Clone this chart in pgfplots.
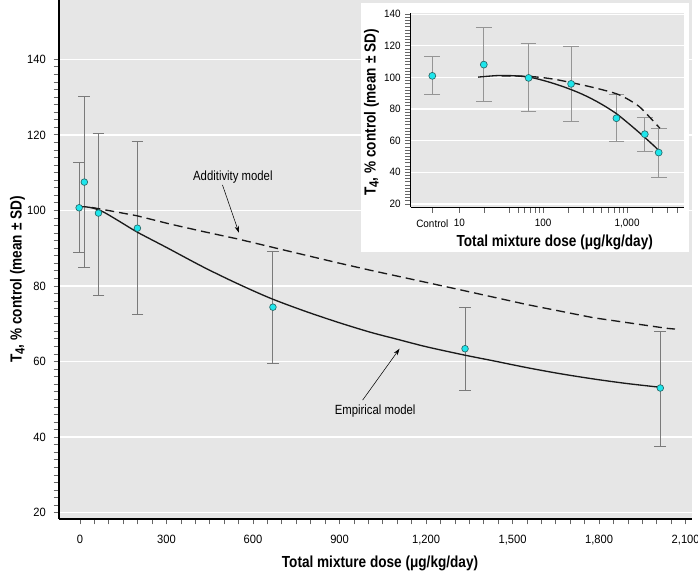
\documentclass[border=0pt]{standalone}
\usepackage{pgfplots}
\pgfplotsset{compat=1.18}
\usepackage{fontspec}
\setmainfont{Liberation Sans}[FakeStretch=0.85]
\newfontfamily\tickfont{Liberation Sans}[FakeStretch=0.93]
\usetikzlibrary{arrows.meta}
\definecolor{bg}{HTML}{E6E6E6}
\definecolor{ptfill}{HTML}{1EE6EC}
\definecolor{ptedge}{HTML}{2A6A6A}
\definecolor{eb}{HTML}{7A7A7A}
\definecolor{curve}{HTML}{1A1A1A}
\newcommand{\lab}{\fontsize{12}{14}\selectfont\bfseries}
\newcommand{\ylab}{T\raisebox{-0.35ex}{\fontsize{10}{12}\selectfont 4}, \% control (mean ± SD)}
\newcommand{\xlab}{Total mixture dose (μg/kg/day)}

\pgfplotstableread{
x y ep em
-3 100.7 11.9 11.9
15 107.5 22.7 22.6
64 99.3 21.1 21.7
199 95.3 23.0 22.9
669 74.4 14.7 14.8
1335 63.4 10.9 11.0
2012 53.0 14.9 15.6
}\maindata

\pgfplotstableread{
x y
0 101.0
20 100.95
46 100.6
81 99.6
139 97.0
200 94.2
300 90.2
428 85.0
544 80.7
659 76.8
774 73.5
890 70.5
1005 67.8
1100 65.9
1202 63.9
1334 61.7
1433 60.2
1549 58.4
1664 56.8
1780 55.4
1895 54.2
2011 53.2
}\mainemp

\pgfplotstableread{
x y
40 100.8
69 100.4
197 98.6
312 96.4
428 94.4
544 92.5
659 90.4
774 88.3
890 86.2
1005 84.2
1318 79.0
1549 75.1
1780 71.6
2034 68.8
2063 68.6
}\mainadd

\pgfplotstableread{
x y ep em
4.77 101.0 12.4 11.6
19.6 108.1 23.2 23.4
67 99.7 22.0 21.1
215 95.9 23.4 23.6
746 74.2 15.2 14.5
1625 64.1 10.7 11.0
2378 52.5 15.4 15.6
}\insetdata

\pgfplotstableread{
x y
16.8 100.2
29.1 101.2
46 101.0
72.8 99.9
115 97.2
181 93.8
286 89.6
452 84.3
714 77.8
1029 71.1
1483 63.9
2136 56.3
2384 53.7
}\insetemp

\pgfplotstableread{
x y
32 101.0
70 100.6
137 98.8
344 94.4
714 90.0
1000 86.5
1400 81.5
1862 74.8
2455 67.9
}\insetadd

\begin{document}
\begin{tikzpicture}
\path[use as bounding box] (-44.25pt,-40.5pt) rectangle (479.25pt,389.25pt);
\begin{axis}[
  at={(0pt,0pt)}, anchor=south west,
  scale only axis, width=474.75pt, height=389.25pt,
  xmin=-72.8, xmax=2122, ymin=18.33, ymax=155.7,
  axis x line*=bottom, axis y line*=left,
  axis line style={black, line width=1.1pt, -},
  axis background/.style={fill=bg},
  xtick={0,300,...,2100}, minor x tick num=5,
  ytick={20,40,...,140}, minor y tick num=9,
  tick align=outside, major tick length=4pt, minor tick length=4pt,
  tick style={black!60, line width=0.6pt},
  ymajorgrids, major grid style={white, line width=1pt},
  /pgf/number format/assume math mode=true,
  xticklabel style={/pgf/number format/1000 sep={,}, inner sep=0pt, anchor=north, yshift=-8pt},
  yticklabel style={inner sep=0pt, anchor=east, xshift=-5.75pt},
  tick label style={font=\tickfont\fontsize{9}{10}\selectfont},
  clip=false,
]
\addplot[forget plot, only marks, mark=none,
  error bars/.cd, y dir=both, y explicit,
  error bar style={eb, line width=0.75pt},
  error mark options={rotate=90, eb, mark size=4.4pt, line width=0.75pt}]
  table[x=x, y=y, y error plus=ep, y error minus=em] {\maindata};
\addplot[curve, line width=1pt, smooth, mark=none] table[x=x,y=y] {\mainemp};
\addplot[curve, line width=1pt, mark=none, dash pattern=on 6.75pt off 3.75pt] table[x=x,y=y] {\mainadd};
\addplot[only marks, mark=*, mark size=2.5pt, mark options={fill=ptfill, draw=ptedge, line width=0.5pt}]
  table[x=x,y=y] {\maindata};
\node[anchor=base, font=\fontsize{10}{12}\selectfont, inner sep=0pt] at (axis cs:530,108.0) {Additivity model};
\draw[-{Stealth[length=5pt,width=3.2pt]}, line width=0.4pt] (axis cs:494,106.75) -- (axis cs:551,94.1);
\node[anchor=base, font=\fontsize{10}{12}\selectfont, inner sep=0pt] at (axis cs:1023.5,45.9) {Empirical model};
\draw[-{Stealth[length=5pt,width=3.2pt]}, line width=0.4pt] (axis cs:980,49.8) -- (axis cs:1108,63.4);
\end{axis}

\node[anchor=base, inner sep=0pt, font=\lab] at (240.75pt,-36pt) {\xlab};
\node[anchor=base, inner sep=0pt, rotate=90, font=\lab] at (-28pt,179.6pt) {\ylab};

\fill[white] (226.5pt,200.25pt) rectangle (472.5pt,387pt);

\begin{axis}[
  at={(263.8pt,233.8pt)}, anchor=south west,
  scale only axis, width=205.2pt, height=146pt,
  xmode=log, xmin=2.64, xmax=4808, ymin=17.9, ymax=141,
  axis x line*=bottom, axis y line*=left,
  axis line style={black, line width=1.1pt, -},
  axis background/.style={fill=bg},
  xtick={4.77,10,100,1000}, xticklabels={Control,10,100,{1,000}},
  minor xtick={20,40,50,60,70,80,90,200,300,400,500,600,700,800,900,2000,3000,4000},
  ytick={20,40,...,140}, minor y tick num=9,
  tick align=outside, major tick length=4pt, minor tick length=4pt,
  tick style={black!60, line width=0.6pt},
  ymajorgrids, major grid style={white, line width=1pt},
  /pgf/number format/assume math mode=true,
  xticklabel style={inner sep=0pt, anchor=north, yshift=-5pt},
  yticklabel style={inner sep=0pt, anchor=east, xshift=-3.3pt},
  tick label style={font=\tickfont\fontsize{8}{9}\selectfont},
  clip=false,
]
\addplot[forget plot, only marks, mark=none,
  error bars/.cd, y dir=both, y explicit,
  error bar style={eb!80, line width=0.75pt},
  error mark options={rotate=90, eb!80, mark size=5.9pt, line width=0.75pt}]
  table[x=x, y=y, y error plus=ep, y error minus=em] {\insetdata};
\addplot[curve, line width=1pt, smooth, mark=none] table[x=x,y=y] {\insetemp};
\addplot[curve, line width=1pt, smooth, mark=none, dash pattern=on 6.75pt off 3.75pt] table[x=x,y=y] {\insetadd};
\addplot[only marks, mark=*, mark size=2.6pt, mark options={fill=ptfill, draw=ptedge, line width=0.5pt}]
  table[x=x,y=y] {\insetdata};
\end{axis}

\node[anchor=base, inner sep=0pt, font=\lab] at (371.8pt,204.2pt) {\xlab};
\node[anchor=base, inner sep=0pt, rotate=90, font=\lab] at (237.5pt,304.9pt) {\ylab};
\end{tikzpicture}
\end{document}
